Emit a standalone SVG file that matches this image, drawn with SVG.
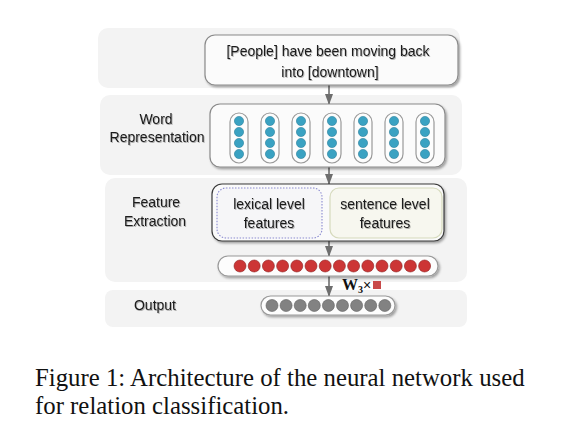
<svg xmlns="http://www.w3.org/2000/svg" width="565" height="440" viewBox="0 0 565 440">
<defs>
<style>
.band{fill:#f3f3f3;stroke:none}
.box{fill:#fbfbfb;stroke:#8a8a8a;stroke-width:1.2}
.pill{fill:#fdfdfd;stroke:#9a9a9a;stroke-width:1.2}
.lbl{font-family:"Liberation Sans",Arial,sans-serif;font-size:14px;fill:#1a1a1a;text-anchor:middle}
.cap{font-family:"Liberation Serif","Times New Roman",serif;font-size:24.8px;fill:#111}
.bd{fill:#3aa2c2;stroke:#2a7f9c;stroke-width:0.6}
.rd{fill:#cc3535;stroke:#8e2020;stroke-width:0.6}
.gd{fill:#828282;stroke:#5e5e5e;stroke-width:0.6}
.arr{stroke:#6e6e6e;stroke-width:1.6;fill:none;marker-end:url(#ah)}
</style>
<filter id="sh" x="-10%" y="-20%" width="130%" height="150%">
<feDropShadow dx="1.5" dy="1.8" stdDeviation="1.3" flood-color="#000" flood-opacity="0.35"/>
</filter>
<filter id="tsh" x="-10%" y="-30%" width="120%" height="160%">
<feDropShadow dx="0.8" dy="1" stdDeviation="0.7" flood-color="#000" flood-opacity="0.3"/>
</filter>
<marker id="ah" viewBox="0 0 11 8" refX="11" refY="4" markerWidth="11" markerHeight="8" orient="auto" markerUnits="userSpaceOnUse">
<path d="M0,0 L11,4 L0,8 z" fill="#6e6e6e"/>
</marker>
</defs>

<g id="bands">
<rect class="band" x="98" y="28" width="362" height="60" rx="10"/>
<rect class="band" x="100" y="95" width="362" height="80" rx="10"/>
<rect class="band" x="105" y="178" width="362" height="104" rx="10"/>
<rect class="band" x="105" y="290" width="362" height="37" rx="8"/>
</g>

<g id="labels" filter="url(#tsh)">
<text class="lbl" x="156" y="124">Word</text>
<text class="lbl" x="157" y="142">Representation</text>
<text class="lbl" x="156" y="207">Feature</text>
<text class="lbl" x="155" y="226">Extraction</text>
<text class="lbl" x="155" y="310">Output</text>
</g>

<g id="connectors">
<line class="arr" x1="329" y1="85" x2="329" y2="105"/>
<line class="arr" x1="329" y1="167" x2="329" y2="185"/>
<line class="arr" x1="329" y1="241" x2="329" y2="257"/>
<line class="arr" x1="329" y1="276" x2="329" y2="297"/>
</g>

<g id="input">
<rect class="box" x="205" y="35" width="253" height="50" rx="10" filter="url(#sh)"/>
<g filter="url(#tsh)">
<text class="lbl" x="328" y="56">[People] have been moving back</text>
<text class="lbl" x="330" y="77">into [downtown]</text>
</g>
</g>

<g id="word-representation">
<rect class="box" x="210" y="104" width="235" height="63" rx="10" fill="#f7f7f7" filter="url(#sh)"/>
<g id="col1"><rect class="pill" x="230" y="113" width="18" height="50" rx="9"/><circle class="bd" cx="239" cy="121" r="4.6"/><circle class="bd" cx="239" cy="132" r="4.6"/><circle class="bd" cx="239" cy="143" r="4.6"/><circle class="bd" cx="239" cy="154" r="4.6"/></g>
<g id="col2"><rect class="pill" x="261" y="113" width="18" height="50" rx="9"/><circle class="bd" cx="270" cy="121" r="4.6"/><circle class="bd" cx="270" cy="132" r="4.6"/><circle class="bd" cx="270" cy="143" r="4.6"/><circle class="bd" cx="270" cy="154" r="4.6"/></g>
<g id="col3"><rect class="pill" x="292" y="113" width="18" height="50" rx="9"/><circle class="bd" cx="301" cy="121" r="4.6"/><circle class="bd" cx="301" cy="132" r="4.6"/><circle class="bd" cx="301" cy="143" r="4.6"/><circle class="bd" cx="301" cy="154" r="4.6"/></g>
<g id="col4"><rect class="pill" x="323" y="113" width="18" height="50" rx="9"/><circle class="bd" cx="332" cy="121" r="4.6"/><circle class="bd" cx="332" cy="132" r="4.6"/><circle class="bd" cx="332" cy="143" r="4.6"/><circle class="bd" cx="332" cy="154" r="4.6"/></g>
<g id="col5"><rect class="pill" x="354" y="113" width="18" height="50" rx="9"/><circle class="bd" cx="363" cy="121" r="4.6"/><circle class="bd" cx="363" cy="132" r="4.6"/><circle class="bd" cx="363" cy="143" r="4.6"/><circle class="bd" cx="363" cy="154" r="4.6"/></g>
<g id="col6"><rect class="pill" x="385" y="113" width="18" height="50" rx="9"/><circle class="bd" cx="394" cy="121" r="4.6"/><circle class="bd" cx="394" cy="132" r="4.6"/><circle class="bd" cx="394" cy="143" r="4.6"/><circle class="bd" cx="394" cy="154" r="4.6"/></g>
<g id="col7"><rect class="pill" x="416" y="113" width="18" height="50" rx="9"/><circle class="bd" cx="425" cy="121" r="4.6"/><circle class="bd" cx="425" cy="132" r="4.6"/><circle class="bd" cx="425" cy="143" r="4.6"/><circle class="bd" cx="425" cy="154" r="4.6"/></g>
</g>

<g id="feature-extraction">
<rect x="212" y="184" width="232" height="57" rx="10" fill="#fafafa" stroke="#3a3a3a" stroke-width="1.2" filter="url(#sh)"/>
<g id="lexical">
<rect x="217" y="188" width="105" height="50" rx="9" fill="#f6f6f8" stroke="#8a8ad0" stroke-width="1.1" stroke-dasharray="1.5 1.5"/>
<g filter="url(#tsh)">
<text class="lbl" x="269" y="209">lexical level</text>
<text class="lbl" x="269" y="228">features</text>
</g>
</g>
<g id="sentence">
<rect x="330" y="188" width="112" height="50" rx="9" fill="#f7f7ef" stroke="#d6dabc" stroke-width="1.2"/>
<g filter="url(#tsh)">
<text class="lbl" x="385" y="209">sentence level</text>
<text class="lbl" x="385" y="228">features</text>
</g>
</g>
</g>

<g id="feature-vector">
<rect class="pill" x="218" y="256" width="220" height="20" rx="10" filter="url(#sh)"/>
<circle class="rd" cx="240" cy="266" r="6"/><circle class="rd" cx="254.2" cy="266" r="6"/><circle class="rd" cx="268.4" cy="266" r="6"/><circle class="rd" cx="282.6" cy="266" r="6"/><circle class="rd" cx="296.8" cy="266" r="6"/><circle class="rd" cx="311" cy="266" r="6"/><circle class="rd" cx="325.2" cy="266" r="6"/><circle class="rd" cx="339.4" cy="266" r="6"/><circle class="rd" cx="353.6" cy="266" r="6"/><circle class="rd" cx="367.8" cy="266" r="6"/><circle class="rd" cx="382" cy="266" r="6"/><circle class="rd" cx="396.2" cy="266" r="6"/><circle class="rd" cx="410.4" cy="266" r="6"/><circle class="rd" cx="424.6" cy="266" r="6"/>
</g>

<g id="w3-label">
<text x="342" y="290" font-family="'Liberation Serif','Times New Roman',serif" font-size="16" font-weight="bold" fill="#111">W<tspan font-size="10" dy="3">3</tspan><tspan font-weight="normal" font-family="'Liberation Sans',Arial,sans-serif" font-size="14" dy="-3">×</tspan></text>
<rect x="373" y="281" width="8" height="8" fill="#c84a4a"/>
</g>

<g id="output">
<rect class="pill" x="261" y="296" width="134" height="19" rx="9.5" filter="url(#sh)"/>
<circle class="gd" cx="272" cy="305.5" r="6"/><circle class="gd" cx="286.1" cy="305.5" r="6"/><circle class="gd" cx="300.2" cy="305.5" r="6"/><circle class="gd" cx="314.3" cy="305.5" r="6"/><circle class="gd" cx="328.4" cy="305.5" r="6"/><circle class="gd" cx="342.5" cy="305.5" r="6"/><circle class="gd" cx="356.6" cy="305.5" r="6"/><circle class="gd" cx="370.7" cy="305.5" r="6"/><circle class="gd" cx="384.8" cy="305.5" r="6"/>
</g>

<g id="caption">
<text class="cap" x="35" y="386">Figure 1: Architecture of the neural network used</text>
<text class="cap" x="35" y="414">for relation classification.</text>
</g>
</svg>
